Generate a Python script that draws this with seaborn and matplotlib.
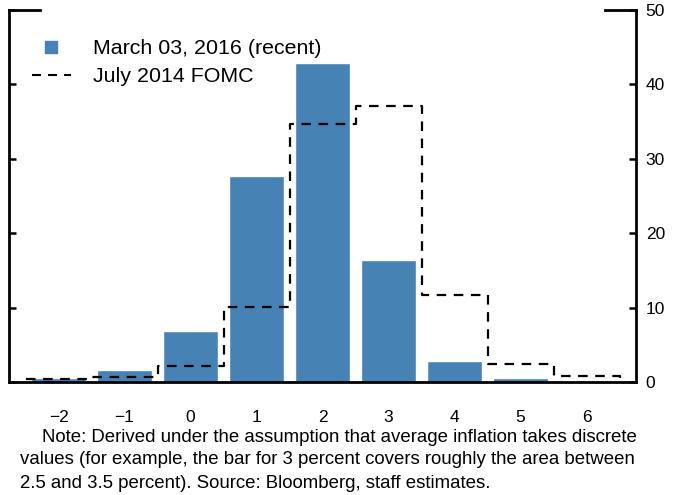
import matplotlib
matplotlib.use("Agg")
import matplotlib.pyplot as plt
import numpy as np
import seaborn as sns
from matplotlib.lines import Line2D

# inflation outcome (percent) and probabilities (percent)
inflation = [-2, -1, 0, 1, 2, 3, 4, 5, 6]
xlabels = ["\u22122", "\u22121", "0", "1", "2", "3", "4", "5", "6"]
recent = [0.6, 1.6, 6.85, 27.7, 42.9, 16.4, 2.8, 0.55, 0.05]
fomc = [0.35, 0.65, 2.1, 10.1, 34.7, 37.1, 11.65, 2.4, 0.85]
yticks = [0, 10, 20, 30, 40, 50]
labels = ["March 03, 2016 (recent)", "July 2014 FOMC"]
note_lines = [
    "Note: Derived under the assumption that average inflation takes discrete",
    "values (for example, the bar for 3 percent covers roughly the area between",
    "2.5 and 3.5 percent). Source: Bloomberg, staff estimates.",
]

blue = "#4682b4"
dash = (0, (4.3, 3.4))

sns.set_style("white")
plt.rcParams["font.family"] = ["Liberation Sans", "DejaVu Sans"]
plt.rcParams["text.color"] = "black"
plt.rcParams["xtick.color"] = "black"
plt.rcParams["ytick.color"] = "black"

fig = plt.figure(figsize=(6.73, 4.95), dpi=100)
ax = fig.add_axes([9 / 673, 1 - 382 / 495, 627 / 673, 372 / 495])

sns.barplot(x=inflation, y=recent, native_scale=True, width=0.83,
            color=blue, saturation=1, ax=ax)

# step outline for the FOMC distribution, one bin per outcome
edges = np.append(np.array(inflation) - 0.5, inflation[-1] + 0.5)
levels = np.append(fomc, 0)
sns.lineplot(x=edges, y=levels, drawstyle="steps-post", color="black",
             linestyle=dash, linewidth=1.6, errorbar=None, ax=ax)

ax.set_xlim(-2.75, 6.75)
ax.set_ylim(0, 50)
ax.set_xticks(inflation, labels=xlabels)
ax.set_yticks(yticks)
ax.tick_params(axis="x", length=0, pad=20, labelsize=12.5)
ax.tick_params(axis="y", direction="in", left=True, right=True,
               labelleft=False, labelright=True, length=5, width=1.8,
               pad=7, labelsize=12.5)

for side in ["left", "right", "bottom"]:
    ax.spines[side].set_linewidth(2)
    ax.spines[side].set_color("black")
ax.spines["top"].set_visible(False)
for x0, x1 in [(0, 0.049), (0.951, 1)]:
    ax.plot([x0, x1], [1, 1], transform=ax.transAxes, color="black",
            linewidth=2, clip_on=False, solid_capstyle="projecting")

handles = [
    Line2D([], [], marker="s", color=blue, linestyle="none", markersize=8),
    Line2D([], [], color="black", linestyle=dash, linewidth=1.5),
]
ax.legend(handles, labels, loc="upper left", bbox_to_anchor=(0.0367, 0.922),
          frameon=False, fontsize=15.4, borderpad=0, borderaxespad=0,
          handlelength=1.8, handletextpad=1.05, labelspacing=0.42)

fig.text(42 / 673, 1 - 437 / 495, note_lines[0], fontsize=13.4, va="center")
fig.text(20 / 673, 1 - 460 / 495, note_lines[1], fontsize=13.4, va="center")
fig.text(20 / 673, 1 - 483 / 495, note_lines[2], fontsize=13.4, va="center")

fig.savefig("out.png", dpi=100)
